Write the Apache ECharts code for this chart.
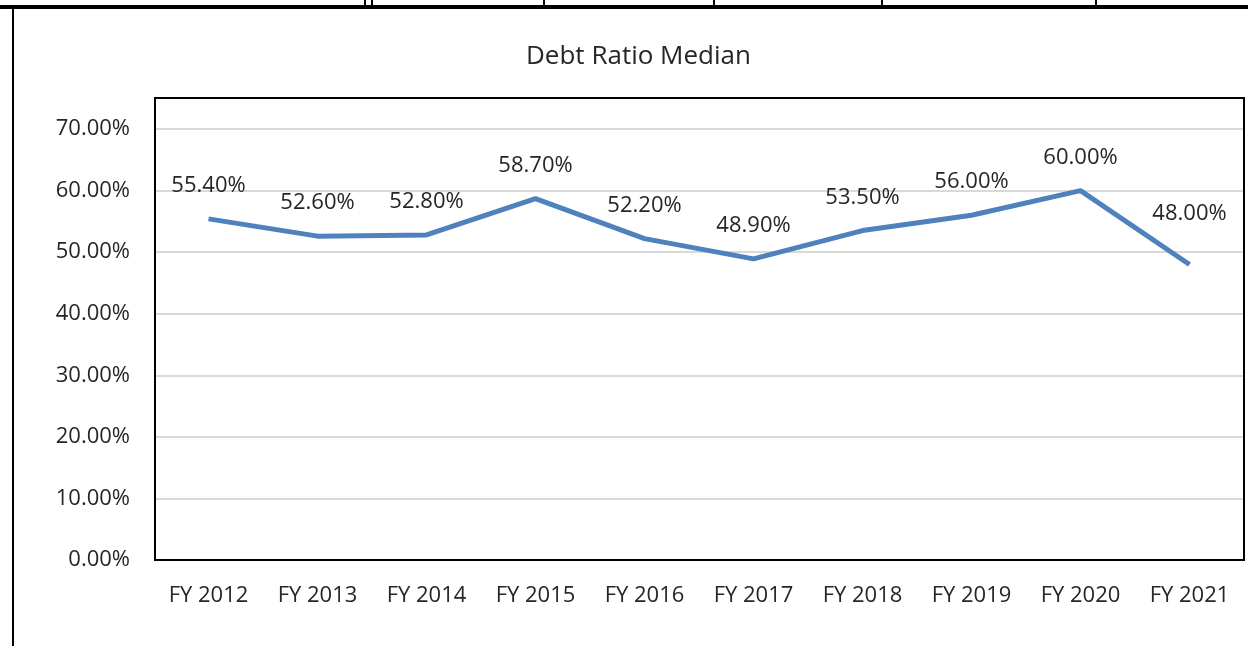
<!DOCTYPE html>
<html>
<head>
<meta charset="utf-8">
<script src="https://cdn.jsdelivr.net/npm/echarts@6/dist/echarts.min.js"></script>
<style>
  html, body { margin: 0; padding: 0; background: #fff; }
  #main { width: 1248px; height: 646px; }
</style>
</head>
<body>
<div id="main"></div>
<script>
  const years = ['FY 2012', 'FY 2013', 'FY 2014', 'FY 2015', 'FY 2016',
                 'FY 2017', 'FY 2018', 'FY 2019', 'FY 2020', 'FY 2021'];
  const debtRatio = [55.4, 52.6, 52.8, 58.7, 52.2, 48.9, 53.5, 56.0, 60.0, 48.0];
  const yTicks = [0, 10, 70];   // min, interval, max

  const font = '"Open Sans", "Liberation Sans", sans-serif';
  const textColor = '#262626';

  let myChart = echarts.init(document.getElementById('main'));

  // spreadsheet cell borders peeking above the chart
  let cellLines = [365, 372, 544, 714, 882, 1096].map(x => ({
    type: 'rect',
    shape: { x: x - 1, y: 0, width: 2, height: 6 },
    style: { fill: '#000' }
  }));

  let option = {
    animation: false,
    backgroundColor: '#fff',
    title: {
      text: 'Debt Ratio Median',
      left: 521,
      top: 39,
      textStyle: { fontFamily: font, fontSize: 26, fontWeight: 'normal', color: textColor }
    },
    grid: { left: 154, right: 4, top: 129, bottom: 86 },
    xAxis: {
      type: 'category',
      data: years,
      boundaryGap: true,
      axisLine: { show: false },
      axisTick: { show: false },
      axisLabel: { fontFamily: font, fontSize: 22, color: textColor, margin: 25 }
    },
    yAxis: {
      type: 'value',
      min: yTicks[0],
      max: yTicks[2],
      interval: yTicks[1],
      axisLine: { show: false },
      axisTick: { show: false },
      splitLine: { lineStyle: { color: '#d9d9d9', width: 2 } },
      axisLabel: {
        fontFamily: font, fontSize: 22, color: textColor, margin: 24,
        formatter: v => v.toFixed(2) + '%'
      }
    },
    series: [{
      name: 'Debt Ratio Median',
      type: 'line',
      data: debtRatio,
      symbol: 'circle',
      symbolSize: 0,
      itemStyle: { color: '#4F81BD' },
      lineStyle: { color: '#4F81BD', width: 5 },
      label: {
        show: true,
        position: 'top',
        distance: 22,
        fontFamily: font,
        fontSize: 22,
        color: textColor,
        formatter: p => p.value.toFixed(2) + '%'
      },
      // the last label sits higher in the original (steep drop)
      labelLayout: p => (p.dataIndex === debtRatio.length - 1 ? { dy: -18 } : {})
    }],
    graphic: [
      { type: 'rect', shape: { x: 0, y: 5, width: 1248, height: 4 }, style: { fill: '#000' } },
      { type: 'rect', shape: { x: 12, y: 5, width: 2, height: 641 }, style: { fill: '#000' } },
      {
        type: 'rect',
        shape: { x: 155, y: 98, width: 1089, height: 462 },
        style: { fill: 'none', stroke: '#000', lineWidth: 2 },
        z: 10
      }
    ].concat(cellLines)
  };

  myChart.setOption(option);
</script>
</body>
</html>
